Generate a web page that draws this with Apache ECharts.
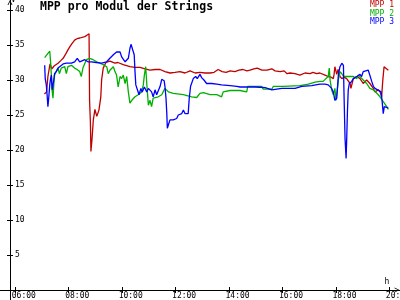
<!DOCTYPE html>
<html><head><meta charset="utf-8">
<script src="https://cdn.jsdelivr.net/npm/echarts@6/dist/echarts.min.js"></script>
<style>html,body{margin:0;padding:0;background:#fff}#c{width:400px;height:300px}</style>
</head><body><div id="c"></div>
<script>
const chartTitle = 'MPP pro Modul der Strings';
const seriesNames = ['MPP 1', 'MPP 2', 'MPP 3'];
const xTickHours = [6, 8, 10, 12, 14, 16, 18, 20];
const yTickValues = [5, 10, 15, 20, 25, 30, 35, 40];

const times1 = [7.09,7.17,7.22,7.30,7.37,7.45,7.52,7.60,7.71,7.79,7.90,7.97,8.05,8.12,8.22,8.31,8.42,8.60,8.68,8.76,8.78,8.81,8.83,8.87,8.92,8.98,9.05,9.13,9.20,9.23,9.29,9.39,9.54,9.73,9.84,10.04,10.29,10.48,10.67,10.85,11.04,11.23,11.42,11.60,11.79,11.98,12.16,12.35,12.54,12.73,12.91,13.10,13.29,13.44,13.59,13.74,13.89,14.04,14.22,14.37,14.52,14.67,14.78,14.93,15.05,15.23,15.42,15.60,15.72,15.91,16.06,16.17,16.28,16.47,16.65,16.84,17.03,17.14,17.28,17.40,17.59,17.71,17.82,17.90,17.93,17.96,18.03,18.08,18.15,18.22,18.30,18.40,18.45,18.53,18.56,18.65,18.78,18.90,18.96,19.02,19.15,19.20,19.27,19.40,19.46,19.59,19.65,19.71,19.75,19.80,19.86,19.96];
const mpp1 = [28.0,28.3,30.5,32.3,31.6,32.0,31.8,32.4,32.8,33.1,33.8,34.3,34.8,35.2,35.7,35.9,36.0,36.2,36.4,36.6,27.0,24.0,19.8,21.5,24.3,25.8,24.8,25.7,27.6,30.0,31.7,32.5,32.7,32.4,32.5,32.2,31.9,31.8,31.8,31.6,31.4,31.5,31.5,31.2,31.0,31.1,31.2,31.0,31.3,31.0,31.1,31.0,31.0,31.1,31.5,31.2,31.1,31.3,31.2,31.4,31.5,31.3,31.4,31.6,31.7,31.4,31.4,31.6,31.3,31.2,31.3,30.9,31.0,30.9,30.7,31.0,30.9,31.1,30.9,31.0,30.7,30.5,30.4,30.2,30.8,31.9,30.8,31.5,30.5,30.2,30.4,30.2,30.0,29.5,28.8,30.2,30.5,30.2,30.0,29.5,30.0,29.8,29.5,28.8,28.3,28.6,28.3,27.6,29.8,31.9,32.1,31.4];

const times2 = [7.10,7.22,7.29,7.32,7.35,7.37,7.41,7.44,7.47,7.53,7.60,7.65,7.72,7.85,7.91,7.97,8.10,8.22,8.31,8.41,8.47,8.53,8.66,8.78,8.91,9.10,9.29,9.42,9.48,9.54,9.61,9.67,9.73,9.79,9.85,9.92,9.98,10.04,10.11,10.17,10.23,10.29,10.36,10.48,10.60,10.73,10.79,10.83,10.88,10.92,10.98,11.04,11.10,11.16,11.23,11.35,11.48,11.60,11.73,11.91,12.29,12.60,12.79,12.91,13.04,13.29,13.54,13.72,13.78,14.04,14.41,14.66,14.70,15.22,15.28,15.60,15.66,16.03,16.09,16.65,16.72,16.97,17.03,17.22,17.40,17.52,17.59,17.71,17.75,17.78,17.84,17.90,17.96,18.00,18.05,18.09,18.15,18.22,18.28,18.65,18.78,18.84,18.90,19.02,19.15,19.27,19.40,19.53,19.65,19.77,19.90,19.96];
const mpp2 = [33.2,33.8,34.1,32.6,30.7,28.8,27.4,29.3,30.7,31.2,31.7,30.9,31.7,31.9,30.9,31.9,32.1,31.7,31.5,31.2,30.5,31.7,32.9,33.1,32.9,32.5,32.2,31.9,30.9,31.4,31.2,31.9,31.2,30.7,29.0,30.5,30.2,30.7,29.5,30.5,28.3,26.7,27.1,27.6,27.9,28.3,29.3,30.7,31.9,29.5,26.4,27.1,26.2,27.4,27.6,27.6,27.9,28.8,28.3,28.1,27.9,27.6,27.5,28.1,28.2,27.9,27.9,27.6,28.3,28.5,28.5,28.3,29.1,29.1,28.7,28.7,29.1,29.1,29.2,29.2,29.4,29.4,29.5,29.7,29.8,29.8,30.0,30.5,31.7,30.0,28.6,27.9,28.8,27.1,28.6,30.0,31.2,30.9,30.5,30.5,30.2,30.7,30.5,30.0,29.5,28.8,28.6,28.1,27.6,26.9,26.2,25.8];

const times3 = [7.10,7.12,7.16,7.19,7.22,7.25,7.29,7.32,7.35,7.38,7.44,7.47,7.53,7.60,7.66,7.79,7.91,8.10,8.22,8.32,8.41,8.60,8.72,8.84,9.03,9.23,9.42,9.54,9.67,9.79,9.92,9.98,10.11,10.23,10.29,10.33,10.39,10.45,10.48,10.51,10.57,10.63,10.70,10.75,10.83,10.92,10.98,11.04,11.10,11.16,11.23,11.29,11.35,11.42,11.48,11.57,11.60,11.64,11.67,11.69,11.73,11.79,11.85,11.91,11.98,12.04,12.10,12.16,12.23,12.29,12.35,12.41,12.47,12.51,12.56,12.66,12.75,12.81,12.91,12.98,13.06,13.16,13.35,13.54,13.72,14.04,14.29,14.41,14.97,15.35,15.60,15.97,16.47,16.72,17.09,17.40,17.59,17.71,17.78,17.84,17.90,17.96,18.03,18.09,18.15,18.22,18.28,18.30,18.34,18.38,18.40,18.43,18.46,18.50,18.59,18.65,18.78,18.84,18.90,18.96,19.02,19.09,19.21,19.27,19.34,19.40,19.46,19.53,19.69,19.73,19.77,19.81,19.87,19.96];
const mpp3 = [32.1,30.2,29.3,27.9,26.2,27.4,29.3,30.2,30.7,28.6,30.0,30.9,31.2,31.7,31.9,32.3,32.4,32.4,32.6,33.1,32.6,32.9,32.6,32.6,32.5,32.4,32.6,33.1,33.6,34.0,34.0,33.3,32.6,33.1,34.5,35.1,35.0,33.6,31.2,29.3,28.6,27.9,28.8,28.3,29.0,28.3,28.8,28.6,28.3,27.6,28.6,27.9,28.1,29.1,30.1,29.9,29.1,27.4,25.2,23.1,23.6,24.3,24.1,24.3,24.1,24.5,25.0,24.8,25.2,25.7,25.2,25.0,25.2,27.4,29.1,30.2,30.5,30.2,30.8,30.3,30.0,29.5,29.5,29.4,29.3,29.2,29.1,29.0,29.0,28.9,28.6,28.8,28.8,29.1,29.2,29.4,29.4,29.3,29.4,28.8,28.3,27.1,27.4,30.7,31.9,32.4,32.1,28.3,21.7,18.8,21.2,25.5,28.6,29.5,29.8,30.2,30.5,30.7,30.8,30.5,31.2,31.4,31.4,31.2,29.8,29.1,28.8,28.6,28.3,26.9,25.2,26.2,26.4,26.0];

const colors = ['#c00000', '#00b000', '#0000ff'];
const X_MIN = 5.4274, X_MAX = 20.397, Y_MIN = -1.4286, Y_MAX = 41.4286;
const mono = 'DejaVu Sans Mono';
const arrowPath = 'path://M0,10L5,0L10,10L8.3,10L5,3.4L1.7,10Z';
const pad = h => String(Math.round(h)).padStart(2, '0') + ':00';

const timesArr = [times1, times2, times3];
const valsArr = [mpp1, mpp2, mpp3];

const chart = echarts.init(document.getElementById('c'), null, {renderer: 'canvas'});
const baseX = {type: 'value', position: 'bottom', min: X_MIN, max: X_MAX, splitLine: {show: false}};
const baseY = {type: 'value', min: 0, max: Y_MAX, position: 'left', offset: -10, splitLine: {show: false}, gridIndex: 0};
chart.setOption({
  animation: false,
  backgroundColor: '#fff',
  title: {text: chartTitle, left: 40, top: 1, padding: 0,
    textStyle: {fontFamily: mono, fontWeight: 'bold', fontSize: 11.5, color: '#000'}},
  legend: {orient: 'vertical', right: 6, top: 1, padding: 0, itemWidth: 0, itemHeight: 7, itemGap: 0.5,
    icon: 'none', align: 'left', selectedMode: false,
    textStyle: {fontFamily: mono, fontSize: 8, padding: 0},
    data: seriesNames.map((n, i) => ({name: n, textStyle: {color: colors[i]}}))},
  grid: [
    {left: 0, right: 0, top: 0, bottom: 10, containLabel: false, outerBoundsMode: 'none'},
    {left: 0, right: 0, top: 0, bottom: 0, containLabel: false, outerBoundsMode: 'none'}
  ],
  xAxis: [
    Object.assign({}, baseX, {
      gridIndex: 0,
      axisLine: {show: true, onZero: false, lineStyle: {color: '#000', width: 1},
        symbol: ['none', arrowPath], symbolSize: [6, 5], symbolOffset: [0, -3]},
      axisTick: {show: true, inside: false, length: 3, customValues: xTickHours, lineStyle: {color: '#000'}},
      axisLabel: {show: true, customValues: xTickHours, formatter: v => pad(v),
        align: 'center', padding: [0, 0, 0, 17], margin: 2,
        fontFamily: mono, fontSize: 8, color: '#000'},
      name: 'h', nameLocation: 'end', nameGap: -13,
      nameTextStyle: {fontFamily: mono, fontSize: 8, color: '#000', align: 'center', verticalAlign: 'bottom', padding: [0, 0, 4, 0]}
    }),
    Object.assign({}, baseX, {
      gridIndex: 0,
      axisLine: {show: false, onZero: false},
      axisTick: {show: true, inside: true, length: 3, customValues: xTickHours, lineStyle: {color: '#000'}},
      axisLabel: {show: false}
    }),
    Object.assign({}, baseX, {
      gridIndex: 1, show: false
    })
  ],
  yAxis: [
    Object.assign({}, baseY, {
      axisLine: {show: false},
      axisTick: {show: true, inside: false, length: 3, customValues: yTickValues, lineStyle: {color: '#000'}},
      axisLabel: {show: true, inside: true, margin: 5, customValues: yTickValues,
        fontFamily: mono, fontSize: 8, color: '#000'}
    }),
    Object.assign({}, baseY, {
      axisLine: {show: false},
      axisTick: {show: true, inside: true, length: 3, customValues: yTickValues, lineStyle: {color: '#000'}},
      axisLabel: {show: false}
    }),
    Object.assign({}, baseY, {
      gridIndex: 1, min: Y_MIN, max: Y_MAX,
      axisLine: {show: true, onZero: false, lineStyle: {color: '#000', width: 1},
        symbol: ['none', arrowPath], symbolSize: [5, 5], symbolOffset: [0, -2.5]},
      axisTick: {show: false},
      axisLabel: {show: false},
      name: 'V', nameLocation: 'end', nameGap: 0,
      nameTextStyle: {fontFamily: mono, fontSize: 8, color: '#000', align: 'left', verticalAlign: 'middle', padding: [0, 0, 0, 1]}
    })
  ],
  series: seriesNames.map((n, i) => ({
    name: n, type: 'line', xAxisIndex: 0, yAxisIndex: 0,
    data: timesArr[i].map((t, j) => [t, valsArr[i][j]]),
    showSymbol: false, symbol: 'none',
    lineStyle: {color: colors[i], width: 1.3},
    itemStyle: {color: colors[i]}
  }))
});
</script>
</body></html>
